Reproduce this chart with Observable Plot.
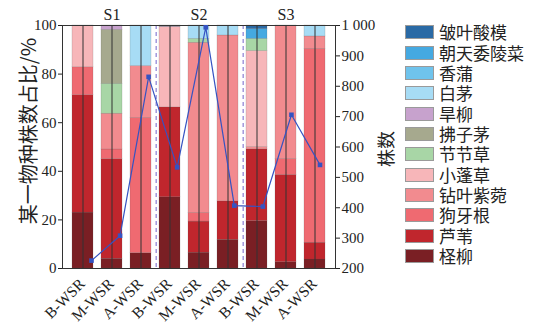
<!DOCTYPE html>
<html><head><meta charset="utf-8">
<script src="https://cdn.jsdelivr.net/npm/d3@7"></script>
<script src="https://cdn.jsdelivr.net/npm/@observablehq/plot@0.6"></script>
<style>
body{margin:0;background:#fff;}
#wrap{position:relative;width:549px;height:327px;overflow:hidden;}
#wrap svg{position:absolute;left:0;top:0;overflow:visible;font-family:"Liberation Serif","Times New Roman",serif !important;}
#wrap svg text, #wrap svg g{font-family:"Liberation Serif","Times New Roman",serif !important;}
.lab{position:absolute;font-family:"Noto Sans CJK SC";color:#222;white-space:nowrap;line-height:1;}
#legend{position:absolute;left:405px;top:22px;font-family:"Noto Sans CJK SC";font-size:17px;color:#222;}
#legend .row{height:20.36px;display:flex;align-items:center;}
#legend .sw{width:27px;height:12px;border:1px solid #9a9a9a;margin-right:5px;flex:none;}
#legend .tx{display:block;height:18px;line-height:18px;overflow:visible;white-space:nowrap;}
</style></head>
<body><div id="wrap"></div>
<script>
// categories
const barLabels = ["B-WSR","M-WSR","A-WSR","B-WSR","M-WSR","A-WSR","B-WSR","M-WSR","A-WSR"];
const groupNames = ["S1","S2","S3"];
// species, stacked bottom to top
const species = ["柽柳","芦苇","狗牙根","钻叶紫菀","小蓬草","节节草","拂子茅","旱柳","白茅","香蒲","朝天委陵菜","皱叶酸模"];
const colors  = ["#7a1f24","#c0262d","#ef6a71","#f28b8f","#f7b6b9","#a8d6a6","#a6a98e","#c7a2cd","#a7dcf5","#6fc3ec","#45a9e1","#2a6aa5"];
// percentage values per species (9 bars)
const v_chengliu   = [23.0, 4.0, 6.3, 29.3, 6.5, 11.8, 19.5, 2.6, 3.7];
const v_luwei      = [48.3, 41.0, 0, 37.0, 12.8, 15.8, 29.5, 35.9, 6.9];
const v_gouyagen   = [11.5, 4.0, 55.7, 0, 3.6, 0, 0, 6.6, 79.8];
const v_zuanye     = [0, 14.7, 21.3, 0, 70.0, 68.3, 1.0, 54.9, 5.1];
const v_xiaopeng   = [17.2, 0, 0, 33.2, 0, 0, 39.5, 0, 0];
const v_jiejie     = [0, 12.3, 0, 0, 1.6, 0, 5.0, 0, 0];
const v_fuzimao    = [0, 22.2, 0, 0, 0, 0, 0, 0, 0];
const v_hanliu     = [0, 1.8, 0, 0, 0, 0, 0, 0, 0];
const v_baimao     = [0, 0, 16.7, 0, 5.5, 4.1, 0, 0, 4.5];
const v_xiangpu    = [0, 0, 0, 0, 0, 0, 0, 0, 0];
const v_chaotian   = [0, 0, 0, 0, 0, 0, 4.0, 0, 0];
const v_zhouye     = [0, 0, 0, 0.5, 0, 0, 1.5, 0, 0];
const seriesValues = [v_chengliu, v_luwei, v_gouyagen, v_zuanye, v_xiaopeng, v_jiejie, v_fuzimao, v_hanliu, v_baimao, v_xiangpu, v_chaotian, v_zhouye];
// plant counts (right axis)
const counts = [226, 308, 831, 533, 994, 407, 404, 706, 541];
const leftTicks = [0, 20, 40, 60, 80, 100];
const rightTicks = [200, 300, 400, 500, 600, 700, 800, 900, 1000];

const ids = d3.range(barLabels.length);
const table = [];
species.forEach((s, k) => seriesValues[k].forEach((v, i) => table.push({id: i, species: s, value: v})));
const lineData = counts.map((c, i) => ({id: i, count: c}));
const groups = groupNames.map((g, j) => ({id: j * 3 + 1, name: g}));
const separators = [2, 5];
const xlab = ids.map(i => ({id: i, label: barLabels[i]}));

const W = 549, H = 327, ML = 62, MR = 214, MT = 25, MB = 59;
const step = (W - ML - MR) / ids.length;
const SERIF = "Liberation Serif";

const main = Plot.plot({
  width: W, height: H, marginLeft: ML, marginRight: MR, marginTop: MT, marginBottom: MB,
  style: {fontFamily: SERIF, fontSize: "15px", color: "#222", background: "transparent", overflow: "visible"},
  x: {type: "band", domain: ids, padding: 0.29, label: null, axis: null},
  y: {domain: [0, 100], label: null},
  color: {domain: species, range: colors},
  marks: [
    Plot.barY(table, {x: "id", y: "value", fill: "species", stroke: "#555", strokeOpacity: 0.35, strokeWidth: 0.5}),
    Plot.ruleX(separators, {x: d => d, dx: step / 2, stroke: "#8a7fd3", strokeWidth: 1.2, strokeDasharray: "4,3"}),
    Plot.text(groups, {x: "id", y: () => 100, text: "name", dy: -11, fontSize: 16, fontFamily: SERIF, fill: "#222"}),
    Plot.axisY({ticks: leftTicks, tickSize: 4, tickPadding: 2, fontSize: 15, fontFamily: SERIF}),
    Plot.tickX(ids, {x: d => d, y1: () => 0, y2: () => 2.2, stroke: "#333"}),
    Plot.text(xlab, {x: "id", y: () => 0, text: "label", rotate: -45, textAnchor: "end", lineAnchor: "top", dx: -5, dy: 8.5, fontSize: 15.5, fontFamily: SERIF, fill: "#222"}),
    Plot.frame({stroke: "#333", strokeWidth: 1})
  ]
});

const fmt = d3.formatLocale({thousands: " ", grouping: [3], decimal: "."}).format(",");
const overlay = Plot.plot({
  width: W, height: H, marginLeft: ML, marginRight: MR, marginTop: MT, marginBottom: MB,
  style: {fontFamily: SERIF, fontSize: "15px", color: "#222", background: "transparent", overflow: "visible"},
  x: {type: "linear", domain: [0, ids.length - 1], range: [91, 319.5], axis: null},
  y: {domain: [200, 1000], label: null, axis: null},
  marks: [
    Plot.line(lineData, {x: "id", y: "count", stroke: "#3553c2", strokeWidth: 1.2}),
    Plot.dot(lineData, {x: "id", y: "count", symbol: "square", r: 2.6, fill: "#3553c2", stroke: "none"}),
    Plot.axisY({anchor: "right", ticks: rightTicks, tickFormat: fmt, tickSize: 4, tickPadding: 2, fontSize: 15, fontFamily: SERIF, label: null})
  ]
});

const wrap = document.getElementById("wrap");
wrap.appendChild(main);
wrap.appendChild(overlay);

// axis titles
const yl = document.createElement("div");
yl.className = "lab";
yl.style.cssText = "left:28px;top:131px;font-size:20px;transform:translate(-50%,-50%) rotate(-90deg);";
yl.textContent = "某一物种株数占比/%";
wrap.appendChild(yl);
const yr = document.createElement("div");
yr.className = "lab";
yr.style.cssText = "left:385px;top:149px;font-size:18px;transform:translate(-50%,-50%) rotate(-90deg);";
yr.textContent = "株数";
wrap.appendChild(yr);

// legend (top to bottom: reverse of stack order)
const lg = document.createElement("div");
lg.id = "legend";
species.map((s, k) => ({s, c: colors[k]})).reverse().forEach(({s, c}) => {
  const row = document.createElement("div"); row.className = "row";
  const sw = document.createElement("div"); sw.className = "sw"; sw.style.background = c;
  const t = document.createElement("span"); t.className = "tx"; t.textContent = s;
  row.appendChild(sw); row.appendChild(t); lg.appendChild(row);
});
wrap.appendChild(lg);
</script></body></html>
